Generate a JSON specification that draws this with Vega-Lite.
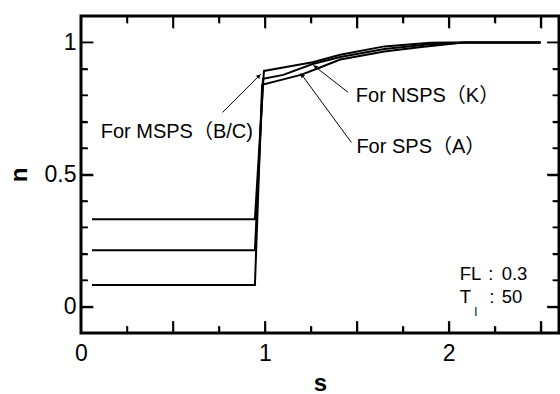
{
  "$schema": "https://vega.github.io/schema/vega-lite/v6.json",
  "width": 478,
  "height": 317,
  "autosize": "none",
  "padding": {"left": 81, "top": 16, "right": 1, "bottom": 61},
  "background": "white",
  "config": {
    "view": {"stroke": "black", "strokeWidth": 3},
    "axis": {"grid": false, "domain": false}
  },
  "datasets": {
    "xmajor": [{"v": 0.5}, {"v": 1}, {"v": 1.5}, {"v": 2}, {"v": 2.5}],
    "xminor": [{"v": 0.25}, {"v": 0.75}, {"v": 1.25}, {"v": 1.75}, {"v": 2.25}],
    "ymajor": [{"v": 0}, {"v": 0.5}, {"v": 1}],
    "yminor": [{"v": 0.1}, {"v": 0.2}, {"v": 0.3}, {"v": 0.4}, {"v": 0.6}, {"v": 0.7}, {"v": 0.8}, {"v": 0.9}]
  },
  "resolve": {"axis": {"x": "independent", "y": "independent"}},
  "layer": [
    {
      "data": {"values": [
        {"s": 0.06, "n": 0.331},
        {"s": 0.946, "n": 0.331},
        {"s": 0.995, "n": 0.892},
        {"s": 1.1, "n": 0.905},
        {"s": 1.26, "n": 0.925},
        {"s": 1.41, "n": 0.953},
        {"s": 1.65, "n": 0.985},
        {"s": 1.9, "n": 0.999},
        {"s": 2.0, "n": 1.0},
        {"s": 2.5, "n": 1.0}
      ]},
      "mark": {"type": "line", "color": "black", "strokeWidth": 2},
      "encoding": {
        "x": {"field": "s", "type": "quantitative",
          "scale": {"domain": [0, 2.6], "nice": false, "zero": false},
          "axis": {"orient": "bottom", "values": [0, 1, 2], "format": "~g", "ticks": false, "labelFont": "Liberation Sans", "labelColor": "black", "labelFontSize": 23, "labelPadding": 9, "labelFlush": false,
            "title": "s", "titleFont": "Liberation Sans", "titleColor": "black", "titleFontSize": 24, "titleFontWeight": "bold", "titleX": 239, "titleY": 57, "titleAlign": "center", "titleBaseline": "alphabetic"}},
        "y": {"field": "n", "type": "quantitative",
          "scale": {"domain": [-0.1, 1.1], "nice": false, "zero": false},
          "axis": {"orient": "left", "values": [0, 0.5, 1], "format": "~g", "ticks": false, "labelFont": "Liberation Sans", "labelColor": "black", "labelFontSize": 23, "labelPadding": 5, "labelFlush": false,
            "title": "n", "titleFont": "Liberation Sans", "titleColor": "black", "titleFontSize": 24, "titleFontWeight": "bold", "titleAngle": -90, "titleX": -62, "titleY": 158.5, "titleAlign": "center", "titleBaseline": "middle"}}
      }
    },
    {
      "data": {"values": [
        {"s": 0.06, "n": 0.213},
        {"s": 0.946, "n": 0.213},
        {"s": 0.99, "n": 0.862},
        {"s": 1.1, "n": 0.877},
        {"s": 1.26, "n": 0.918},
        {"s": 1.41, "n": 0.945},
        {"s": 1.65, "n": 0.975},
        {"s": 1.9, "n": 0.993},
        {"s": 2.1, "n": 1.0},
        {"s": 2.5, "n": 1.0}
      ]},
      "mark": {"type": "line", "color": "black", "strokeWidth": 2},
      "encoding": {
        "x": {"field": "s", "type": "quantitative", "axis": {"orient": "bottom", "values": [0.5, 1, 1.5, 2, 2.5], "labels": false, "title": null, "tickColor": "black", "tickSize": 12, "offset": -12, "tickWidth": 1.5}},
        "y": {"field": "n", "type": "quantitative", "axis": {"orient": "left", "values": [0, 0.5, 1], "labels": false, "title": null, "tickColor": "black", "tickSize": 12, "offset": -12, "tickWidth": 1.5}}
      }
    },
    {
      "data": {"values": [
        {"s": 0.06, "n": 0.082},
        {"s": 0.946, "n": 0.082},
        {"s": 0.985, "n": 0.84},
        {"s": 1.1, "n": 0.86},
        {"s": 1.2, "n": 0.878},
        {"s": 1.3, "n": 0.905},
        {"s": 1.41, "n": 0.935},
        {"s": 1.65, "n": 0.966},
        {"s": 1.84, "n": 0.982},
        {"s": 2.08, "n": 1.0},
        {"s": 2.5, "n": 1.0}
      ]},
      "mark": {"type": "line", "color": "black", "strokeWidth": 2},
      "encoding": {
        "x": {"field": "s", "type": "quantitative", "axis": {"orient": "bottom", "values": [0.25, 0.75, 1.25, 1.75, 2.25], "labels": false, "title": null, "tickColor": "black", "tickSize": 7, "offset": -7, "tickWidth": 1.5}},
        "y": {"field": "n", "type": "quantitative", "axis": {"orient": "left", "values": [0.1, 0.2, 0.3, 0.4, 0.6, 0.7, 0.8, 0.9], "labels": false, "title": null, "tickColor": "black", "tickSize": 6.5, "offset": -6.5, "tickWidth": 1.5}}
      }
    },
    {
      "data": {"values": [
        {"x": 0.77, "y": 0.735, "x2": 0.978, "y2": 0.88},
        {"x": 1.453, "y": 0.811, "x2": 1.263, "y2": 0.914},
        {"x": 1.471, "y": 0.621, "x2": 1.194, "y2": 0.884}
      ]},
      "mark": {"type": "rule", "color": "black", "strokeWidth": 1},
      "encoding": {
        "x": {"field": "x", "type": "quantitative", "axis": {"orient": "top", "values": [0.5, 1, 1.5, 2, 2.5], "labels": false, "title": null, "tickColor": "black", "tickSize": 12, "offset": -12, "tickWidth": 1.5}},
        "y": {"field": "y", "type": "quantitative", "axis": {"orient": "right", "values": [0, 0.5, 1], "labels": false, "title": null, "tickColor": "black", "tickSize": 12, "offset": -12, "tickWidth": 1.5}},
        "x2": {"field": "x2"},
        "y2": {"field": "y2"}
      }
    },
    {
      "data": {"values": [
        {"x": 0.107, "y": 0.64, "label": "For MSPS（B/C)"},
        {"x": 1.495, "y": 0.775, "label": "For NSPS（K）"},
        {"x": 1.498, "y": 0.583, "label": "For SPS（A）"}
      ]},
      "mark": {"type": "text", "align": "left", "baseline": "alphabetic", "fontSize": 20, "color": "black", "font": "Liberation Sans, Noto Sans CJK JP"},
      "encoding": {
        "x": {"field": "x", "type": "quantitative", "axis": {"orient": "top", "values": [0.25, 0.75, 1.25, 1.75, 2.25], "labels": false, "title": null, "tickColor": "black", "tickSize": 7, "offset": -7, "tickWidth": 1.5}},
        "y": {"field": "y", "type": "quantitative", "axis": {"orient": "right", "values": [0.1, 0.2, 0.3, 0.4, 0.6, 0.7, 0.8, 0.9], "labels": false, "title": null, "tickColor": "black", "tickSize": 6.5, "offset": -6.5, "tickWidth": 1.5}},
        "text": {"field": "label"}
      }
    },
    {
      "data": {"name": "xmajor"},
      "mark": {"type": "rule", "color": "black", "strokeWidth": 1.5, "y2Offset": -12},
      "encoding": {
        "x": {"field": "v", "type": "quantitative", "axis": null},
        "y": {"datum": -0.1, "type": "quantitative", "axis": null},
        "y2": {"datum": -0.1}
      }
    },
    {
      "data": {"name": "xminor"},
      "mark": {"type": "rule", "color": "black", "strokeWidth": 1.5, "y2Offset": -7},
      "encoding": {
        "x": {"field": "v", "type": "quantitative", "axis": null},
        "y": {"datum": -0.1, "type": "quantitative", "axis": null},
        "y2": {"datum": -0.1}
      }
    },
    {
      "data": {"name": "xmajor"},
      "mark": {"type": "rule", "color": "black", "strokeWidth": 1.5, "y2Offset": 12},
      "encoding": {
        "x": {"field": "v", "type": "quantitative", "axis": null},
        "y": {"datum": 1.1, "type": "quantitative", "axis": null},
        "y2": {"datum": 1.1}
      }
    },
    {
      "data": {"name": "xminor"},
      "mark": {"type": "rule", "color": "black", "strokeWidth": 1.5, "y2Offset": 7},
      "encoding": {
        "x": {"field": "v", "type": "quantitative", "axis": null},
        "y": {"datum": 1.1, "type": "quantitative", "axis": null},
        "y2": {"datum": 1.1}
      }
    },
    {
      "data": {"name": "ymajor"},
      "mark": {"type": "rule", "color": "black", "strokeWidth": 1.5, "x2Offset": 12},
      "encoding": {
        "y": {"field": "v", "type": "quantitative", "axis": null},
        "x": {"datum": 0, "type": "quantitative", "axis": null},
        "x2": {"datum": 0}
      }
    },
    {
      "data": {"name": "yminor"},
      "mark": {"type": "rule", "color": "black", "strokeWidth": 1.5, "x2Offset": 6.5},
      "encoding": {
        "y": {"field": "v", "type": "quantitative", "axis": null},
        "x": {"datum": 0, "type": "quantitative", "axis": null},
        "x2": {"datum": 0}
      }
    },
    {
      "data": {"name": "ymajor"},
      "mark": {"type": "rule", "color": "black", "strokeWidth": 1.5, "x2Offset": -12},
      "encoding": {
        "y": {"field": "v", "type": "quantitative", "axis": null},
        "x": {"datum": 2.6, "type": "quantitative", "axis": null},
        "x2": {"datum": 2.6}
      }
    },
    {
      "data": {"name": "yminor"},
      "mark": {"type": "rule", "color": "black", "strokeWidth": 1.5, "x2Offset": -6.5},
      "encoding": {
        "y": {"field": "v", "type": "quantitative", "axis": null},
        "x": {"datum": 2.6, "type": "quantitative", "axis": null},
        "x2": {"datum": 2.6}
      }
    },
    {
      "data": {"values": [{"x": 0.968, "y": 0.873}]},
      "mark": {"type": "point", "shape": "triangle-up", "filled": true, "color": "black", "opacity": 1, "size": 22, "angle": 45},
      "encoding": {
        "x": {"field": "x", "type": "quantitative", "axis": null},
        "y": {"field": "y", "type": "quantitative", "axis": null}
      }
    },
    {
      "data": {"values": [{"x": 1.274, "y": 0.908}]},
      "mark": {"type": "point", "shape": "triangle-up", "filled": true, "color": "black", "opacity": 1, "size": 22, "angle": 308},
      "encoding": {
        "x": {"field": "x", "type": "quantitative", "axis": null},
        "y": {"field": "y", "type": "quantitative", "axis": null}
      }
    },
    {
      "data": {"values": [{"x": 1.202, "y": 0.876}]},
      "mark": {"type": "point", "shape": "triangle-up", "filled": true, "color": "black", "opacity": 1, "size": 22, "angle": 324},
      "encoding": {
        "x": {"field": "x", "type": "quantitative", "axis": null},
        "y": {"field": "y", "type": "quantitative", "axis": null}
      }
    },
    {
      "data": {"values": [
        {"x": 2.06, "y": 0.0996, "label": "FL"},
        {"x": 2.215, "y": 0.0996, "label": ":"},
        {"x": 2.288, "y": 0.0996, "label": "0.3"},
        {"x": 2.06, "y": 0.0125, "label": "T"},
        {"x": 2.22, "y": 0.0125, "label": ":"},
        {"x": 2.288, "y": 0.0125, "label": "50"}
      ]},
      "mark": {"type": "text", "align": "left", "baseline": "alphabetic", "fontSize": 18.5, "color": "black", "font": "Liberation Sans"},
      "encoding": {
        "x": {"field": "x", "type": "quantitative", "axis": null},
        "y": {"field": "y", "type": "quantitative", "axis": null},
        "text": {"field": "label"}
      }
    },
    {
      "data": {"values": [{"x": 2.141, "y": -0.035, "label": "l"}]},
      "mark": {"type": "text", "align": "left", "baseline": "alphabetic", "fontSize": 12, "color": "black", "font": "Liberation Sans"},
      "encoding": {
        "x": {"field": "x", "type": "quantitative", "axis": null},
        "y": {"field": "y", "type": "quantitative", "axis": null},
        "text": {"field": "label"}
      }
    }
  ]
}
